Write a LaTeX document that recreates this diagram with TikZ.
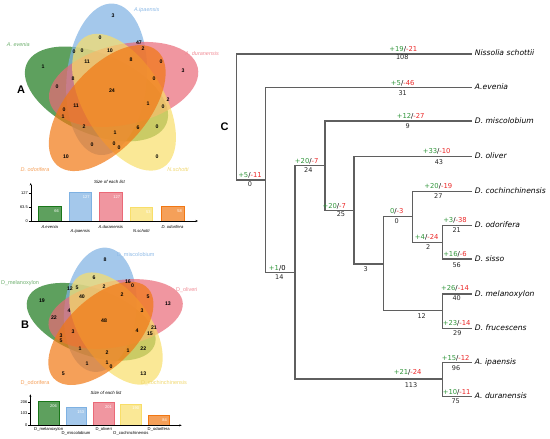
\documentclass[tikz,border=0pt]{standalone}
\usepackage{fontspec}
\setmainfont{Liberation Sans}
\newfontfamily\dvs{DejaVu Sans}
\usetikzlibrary{arrows.meta}
\definecolor{vgreen}{RGB}{26,119,26}
\definecolor{vblue}{RGB}{126,177,226}
\definecolor{vred}{RGB}{234,105,119}
\definecolor{vyellow}{RGB}{248,222,105}
\definecolor{vorange}{RGB}{241,119,19}
\definecolor{lgreen}{RGB}{110,175,110}
\definecolor{lblue}{RGB}{140,185,230}
\definecolor{lred}{RGB}{240,140,150}
\definecolor{lyellow}{RGB}{240,215,110}
\definecolor{lorange}{RGB}{245,160,90}
\definecolor{tgreen}{RGB}{50,150,60}
\definecolor{tred}{RGB}{235,40,40}
\definecolor{tline}{RGB}{95,95,95}
\newcommand{\myflower}{%
  \foreach \i/\c in {4/vgreen,0/vblue,1/vred,2/vyellow,3/vorange}{%
    \fill[\c, fill opacity=0.7, rotate=-72*\i, shift={(-5.0,-14.29)}, rotate=84.8] (0,0) ellipse (76pt and 40pt);
  }%
}
\newcommand{\gl}[2]{{\color{tgreen}#1}/{\color{tred}#2}}
\begin{document}
\begin{tikzpicture}[x=1pt,y=-1pt,
  vn/.style={font=\bfseries\fontsize{5.2}{6}\selectfont, inner sep=0pt},
  setlab/.style={font=\itshape\fontsize{5.5}{6.5}\selectfont, inner sep=0pt},
  setlabB/.style={font=\fontsize{5.5}{6.5}\selectfont, inner sep=0pt},
  panel/.style={font=\bfseries\fontsize{11}{13}\selectfont, inner sep=0pt},
  bar/.style={fill opacity=0.7, line width=0.5pt},
  barval/.style={text=white, font=\fontsize{4}{5}\selectfont, inner sep=0pt, anchor=north east},
  ticklab/.style={font=\fontsize{4}{5}\selectfont, inner sep=0pt, anchor=east},
  cat/.style={font=\itshape\fontsize{4.2}{5}\selectfont, inner sep=0pt},
  catB/.style={font=\fontsize{4.2}{5}\selectfont, inner sep=0pt},
  ttl/.style={font=\itshape\fontsize{4.4}{5}\selectfont, inner sep=0pt},
  axis/.style={line width=0.4pt, -{Stealth[length=2.5pt,width=2pt]}},
  br/.style={draw=tline, line width=1.2pt},
  gain/.style={font=\dvs\fontsize{6.8}{8}\selectfont, inner sep=0pt},
  cnt/.style={font=\dvs\fontsize{6.5}{8}\selectfont, inner sep=0pt, text=black!85},
  leaf/.style={font=\dvs\itshape\fontsize{7.6}{9}\selectfont, anchor=west, inner xsep=3pt, inner ysep=0pt, text height=5.5pt, text depth=1.5pt}
]
\useasboundingbox (0,0) rectangle (550,439);

% ---------- Venn A ----------
\begin{scope}[shift={(111.6,93.6)}]
  \myflower
\end{scope}
\foreach [count=\k] \x/\y/\t in {113/16/3,100/38/0,139/43/47,143/49/2,74/52/0,82/51/0,110/51/10,43/67/1,87/62/11,131/60/8,161/62/0,183/71/3,73/79/8,57/87/0,154/79/0,112/91/24,168/100/2,148/104/1,163/107/0,64/110/0,76/106/11,63/117/1,84/127/2,138/128/6,157/127/0,115/133/1,92/145/0,114/144/0,119/147.5/0,66/157/10,157/157/0}
  \node[vn] (a\k) at (\x,\y) {\t};
\node[setlab, text=lgreen] (sa1) at (18.3,45) {A. evenia};
\node[setlab, text=lblue] (sa2) at (146.7,10) {A.ipaensis};
\node[setlab, text=lred, anchor=west] (sa3) at (185,53.3) {A. duranensis};
\node[setlab, text=lorange] (sa4) at (35,170) {D. odorifera};
\node[setlab, text=lyellow] (sa5) at (178,170) {N.schotti};
\node[panel] (pA) at (21,89.5) {A};

% ---------- bars A ----------
\node[ttl] (tA) at (109.5,181.7) {Size of each list};
\filldraw[bar, fill=vgreen, draw=vgreen] (38.3,206.7) rectangle (61,221);
\filldraw[bar, fill=vblue, draw=vblue] (69,192.7) rectangle (91.7,221);
\filldraw[bar, fill=vred, draw=vred] (99.3,192.7) rectangle (122.3,221);
\filldraw[bar, fill=vyellow, draw=vyellow] (130,207.7) rectangle (152.7,221);
\filldraw[bar, fill=vorange, draw=vorange] (161,206.7) rectangle (184,221);
\node[barval] (va1) at (59,209.5) {66};
\node[barval] (va2) at (89.7,195.5) {127};
\node[barval] (va3) at (120.3,195.5) {127};
\node[barval] (va4) at (150.7,210.5) {53};
\node[barval] (va5) at (182,209.5) {58};
\draw[axis] (30.7,221) -- (30.7,183);
\draw[axis] (30.7,221) -- (198,221);
\foreach \y in {193.3,206.7,221} \draw[line width=0.4pt] (28.7,\y) -- (30.7,\y);
\node[ticklab] (ka1) at (28,193.3) {127};
\node[ticklab] (ka2) at (28,206.7) {63.5};
\node[ticklab] (ka3) at (28,221) {0};
\node[cat] (ca1) at (49.7,226.7) {A.evenia};
\node[cat] (ca2) at (80.3,231) {A.ipaensis};
\node[cat] (ca3) at (110.8,226.7) {A.duranensis};
\node[cat] (ca4) at (141.3,231) {N.schotti};
\node[cat] (ca5) at (172.5,226.7) {D. odorifera};

% ---------- Venn B ----------
\begin{scope}[shift={(104.8,321.5)}, xscale=0.9, yscale=0.82]
  \myflower
\end{scope}
\foreach [count=\k] \x/\y/\t in {105/259.3/8,94/277.3/6,128/281.7/16,132.5/286/0,70/289/12,77/287.7/5,104/286.7/2,42/300.7/19,82/296.7/40,122/294.3/2,148/296.7/5,168/304/13,69/310.7/4,54/317.3/22,142/310.7/3,104/320.7/48,154/327.5/21,150/333.3/15,137/330.3/4,73/331.7/3,61/335.5/3,61/341/5,80/349/1,107/353/2,128/350.7/1,143.3/349/22,87/363.3/1,107/362.7/1,111/366.3/0,63.3/373.5/5,143.3/373.5/13}
  \node[vn] (b\k) at (\x,\y) {\t};
\node[setlabB, text=lblue] (sb1) at (135.7,255) {D\_miscolobium};
\node[setlabB, text=lgreen] (sb2) at (20,283.3) {D\_melanoxylon};
\node[setlabB, text=lred] (sb3) at (186.7,290) {D\_oliveri};
\node[setlabB, text=lorange] (sb4) at (35,383.3) {D\_odorifera};
\node[setlabB, text=lyellow] (sb5) at (164,383.3) {D\_cochinchinensis};
\node[panel] (pB) at (25,325) {B};

% ---------- bars B ----------
\node[ttl] (tB) at (106,392.7) {Size of each list};
\filldraw[bar, fill=vgreen, draw=vgreen] (38.3,401.7) rectangle (59,425.3);
\filldraw[bar, fill=vblue, draw=vblue] (66,407.7) rectangle (86.3,425.3);
\filldraw[bar, fill=vred, draw=vred] (93.3,402.7) rectangle (114,425.3);
\filldraw[bar, fill=vyellow, draw=vyellow] (120.7,404) rectangle (141.3,425.3);
\filldraw[bar, fill=vorange, draw=vorange] (148.3,415.7) rectangle (169,425.3);
\node[barval] (vb1) at (57,404.5) {206};
\node[barval] (vb2) at (84.3,410.5) {153};
\node[barval] (vb3) at (112,405.5) {201};
\node[barval] (vb4) at (139.3,406.8) {190};
\node[barval] (vb5) at (167,418.5) {84};
\draw[axis] (30.3,425.3) -- (30.3,394.3);
\draw[axis] (30.3,425.3) -- (181.7,425.3);
\foreach \y in {401.7,413.5,425.3} \draw[line width=0.4pt] (28.3,\y) -- (30.3,\y);
\node[ticklab] (kb1) at (27.6,401.7) {206};
\node[ticklab] (kb2) at (27.6,413.5) {103};
\node[ticklab] (kb3) at (27.6,425.3) {0};
\node[catB] (cb1) at (48.7,429) {D\_melanoxylon};
\node[catB] (cb2) at (76,433.3) {D\_miscolobium};
\node[catB] (cb3) at (103.7,429) {D\_oliveri};
\node[catB] (cb4) at (131,433.3) {D\_cochinchinensis};
\node[catB] (cb5) at (158.7,429) {D\_odorifera};

% ---------- Tree C ----------
\node[panel] (pC) at (224.5,127) {C};
\coordinate (r) at (236.7,117);
\coordinate (n1) at (265.7,180);
\coordinate (n2) at (295,272.7);
\coordinate (n3) at (325,165.7);
\coordinate (n4) at (354,210.7);
\coordinate (n5) at (383.3,264);
\coordinate (n6) at (412.7,216.7);
\coordinate (n7) at (442.3,242.3);
\coordinate (n8) at (442.3,379);
\coordinate (n9) at (442.3,310.7);
\node[leaf] (L1) at (471.7,54) {Nissolia schottii};
\node[leaf] (L2) at (471.7,87.7) {A.evenia};
\node[leaf] (L3) at (471.7,121) {D. miscolobium};
\node[leaf] (L4) at (471.7,156.7) {D. oliver};
\node[leaf] (L5) at (471.7,191.7) {D. cochinchinensis};
\node[leaf] (L6) at (471.7,225.7) {D. odorifera};
\node[leaf] (L7) at (471.7,259) {D. sisso};
\node[leaf] (L8) at (471.7,294) {D. melanoxylon};
\node[leaf] (L9) at (471.7,328.3) {D. frucescens};
\node[leaf] (L10) at (471.7,362.3) {A. ipaensis};
\node[leaf] (L11) at (471.7,396.7) {A. duranensis};
\draw[br] (r) |- (L1);
\draw[br] (r) |- (n1);
\draw[br] (n1) |- (L2);
\draw[br] (n1) |- (n2);
\draw[br] (n2) |- (n3);
\draw[br] (n2) |- (n8);
\draw[br] (n3) |- (L3);
\draw[br] (n3) |- (n4);
\draw[br] (n4) |- (L4);
\draw[br] (n4) |- (n5);
\draw[br] (n5) |- (n6);
\draw[br] (n5) |- (n9);
\draw[br] (n6) |- (L5);
\draw[br] (n6) |- (n7);
\draw[br] (n7) |- (L6);
\draw[br] (n7) |- (L7);
\draw[br] (n9) |- (L8);
\draw[br] (n9) |- (L9);
\draw[br] (n8) |- (L10);
\draw[br] (n8) |- (L11);
% branch labels
\node[gain] (g1) at (403.3,49) {\gl{+19}{-21}};
\node[cnt] (c1) at (402.3,57.5) {108};
\node[gain] (g2) at (402.7,83) {\gl{+5}{-46}};
\node[cnt] (c2) at (402.7,92.7) {31};
\node[gain] (g3) at (410.7,116) {\gl{+12}{-27}};
\node[cnt] (c3) at (407.7,126) {9};
\node[gain] (g4) at (436.7,151) {\gl{+33}{-10}};
\node[cnt] (c4) at (439,162) {43};
\node[gain] (g5) at (306.7,161) {\gl{+20}{-7}};
\node[cnt] (c5) at (308.3,170) {24};
\node[gain] (g6) at (250,175) {\gl{+5}{-11}};
\node[cnt] (c6) at (250,184.3) {0};
\node[gain] (g7) at (334.3,206) {\gl{+20}{-7}};
\node[cnt] (c7) at (341,214.5) {25};
\node[gain] (g8) at (396.7,211.7) {\gl{0}{-3}};
\node[cnt] (c8) at (396.7,220.7) {0};
\node[gain] (g9) at (438.3,186.5) {\gl{+20}{-19}};
\node[cnt] (c9) at (438.3,195.7) {27};
\node[gain] (g10) at (455,220.7) {\gl{+3}{-38}};
\node[cnt] (c10) at (456.7,230.5) {21};
\node[gain] (g11) at (426.7,237.5) {\gl{+4}{-24}};
\node[cnt] (c11) at (428.3,246.7) {2};
\node[gain] (g12) at (455,254.5) {\gl{+16}{-6}};
\node[cnt] (c12) at (456.7,265.5) {56};
\node[gain] (g13) at (277.3,268) {{\color{tgreen}+1}/0};
\node[cnt] (c13) at (279.3,277.3) {14};
\node[cnt] (c14) at (365.7,269) {3};
\node[gain] (g15) at (455,288.7) {\gl{+26}{-14}};
\node[cnt] (c15) at (456.7,297.7) {40};
\node[cnt] (c16) at (421.7,315.7) {12};
\node[gain] (g17) at (456.7,323.5) {\gl{+23}{-14}};
\node[cnt] (c17) at (457.3,332.7) {29};
\node[gain] (g18) at (455.7,358) {\gl{+15}{-12}};
\node[cnt] (c18) at (456,367.7) {96};
\node[gain] (g19) at (407.7,372.5) {\gl{+21}{-24}};
\node[cnt] (c19) at (411,385) {113};
\node[gain] (g20) at (456.7,392.3) {\gl{+10}{-11}};
\node[cnt] (c20) at (455.7,401) {75};
\end{tikzpicture}
\end{document}
